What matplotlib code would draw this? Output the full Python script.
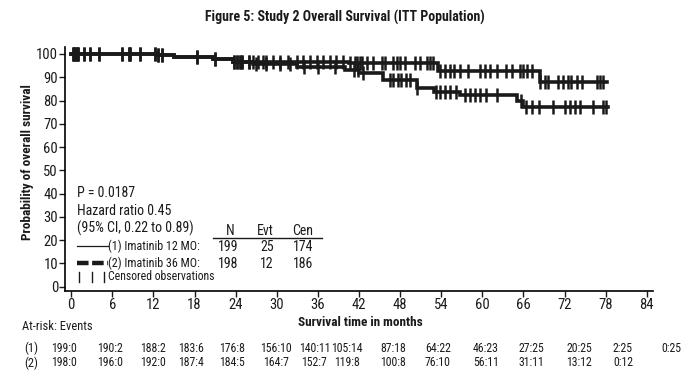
import numpy as np
import matplotlib
matplotlib.use('Agg')
import matplotlib.pyplot as plt

plt.rcParams['font.family'] = ['Roboto Condensed', 'Archivo Narrow', 'DejaVu Sans']

# Kaplan-Meier steps (time in months, survival %)
arm1_times = [0, 12.5, 15, 20.7, 23.6, 26.5, 33, 40, 42, 45.5, 50.4, 53, 56.7, 65, 66]
arm1_surv = [100, 99.5, 98.6, 97.7, 96.7, 95.5, 94.5, 93.2, 91.7, 88.8, 85.5, 83.8, 82.4, 80, 77.3]
arm1_end = 78.3
arm2_times = [0, 12.5, 15, 20.7, 23.6, 40.5, 53.6, 68.4]
arm2_surv = [100, 99.5, 98.6, 97.7, 96.7, 96.0, 92.6, 88.1]
arm2_end = 78.2

shared_cens = [0.2, 0.4, 0.6, 0.8, 1.0, 1.8, 2.8, 4.0, 7.4, 8.4, 8.6, 10.1, 12.3, 12.7, 13.2,
               18.3, 21.0, 23.7, 24.2, 24.6, 24.9, 25.9]
arm1_cens = [27.0, 28.5, 30.5, 32.0, 34.0, 36.0, 38.5, 41.2, 41.9, 42.6, 46.5, 47.0, 47.7,
             48.2, 48.9, 49.4, 50.4, 53.3, 53.8, 54.5, 55.3, 56.2, 57.5, 58.2, 58.9, 59.6,
             60.6, 62.1, 65.7, 66.4, 67.2, 68.2, 70.3, 72.0, 72.8, 73.5, 74.2, 76.2, 77.6, 78.1]
arm2_cens = [26.6, 27.3, 28.0, 28.5, 29.5, 30.5, 31.7, 32.9, 33.9, 34.9, 35.8, 36.8, 37.8,
             38.7, 39.7, 40.7, 41.4, 41.7, 42.1, 42.4, 43.1, 44.1, 45.3, 45.8, 47.0, 47.5,
             48.0, 48.7, 50.2, 50.9, 51.9, 52.4, 52.8, 53.8, 54.5, 55.3, 55.8, 56.7, 57.9,
             59.6, 60.4, 61.1, 62.1, 63.5, 64.3, 65.5, 66.0, 66.5, 67.2, 68.4, 69.1, 69.6,
             71.1, 71.8, 72.5, 73.0, 73.8, 74.5, 76.7, 77.2, 77.6]

xticks = list(range(0, 85, 6))
yticks = list(range(0, 101, 10))

risk_pos = [-1.0, 5.7, 12.0, 17.5, 23.5, 29.9, 35.5, 40.3, 47.0, 53.5, 60.5, 67.1, 74.1, 80.5, 87.5]
risk1 = ['199:0', '190:2', '188:2', '183:6', '176:8', '156:10', '140:11', '105:14', '87:18',
         '64:22', '46:23', '27:25', '20:25', '2:25', '0:25']
risk2 = ['198:0', '196:0', '192:0', '187:4', '184:5', '164:7', '152:7', '119:8', '100:8',
         '76:10', '56:11', '31:11', '13:12', '0:12']

W, H = 692, 378
fig = plt.figure(figsize=(W / 100, H / 100), dpi=100)
ax = fig.add_axes([65 / W, 1 - 290.6 / H, 588 / W, 243.6 / H])
INK = '#1a1a1a'


def km(times, surv, end, cens, lw):
    t = np.array(times + [end])
    s = np.array(surv + [surv[-1]])
    ax.step(t, s, where='post', color=INK, lw=lw, solid_joinstyle='miter')
    c = np.array(cens)
    idx = np.searchsorted(np.array(times), c, side='right') - 1
    ax.plot(c, np.array(surv)[idx], ls='none', marker='|', ms=10, mew=1.8, color=INK)


km(arm1_times, arm1_surv, arm1_end, shared_cens + arm1_cens, 2.6)
km(arm2_times, arm2_surv, arm2_end, shared_cens + arm2_cens, 2.6)

ax.set_xlim(-0.9, 84.9)
ax.set_ylim(-1.7, 103)
ax.set_xticks(xticks)
ax.set_yticks(yticks)
ax.tick_params(direction='out', length=4, width=1, labelsize=10.5, pad=1, colors=INK)
for s in ['top', 'right']:
    ax.spines[s].set_visible(False)
for s in ['left', 'bottom']:
    ax.spines[s].set_linewidth(1.2)

fig.text(345 / W, 1 - 17 / H, 'Figure 5: Study 2 Overall Survival (ITT Population)',
         ha='center', va='center', fontsize=10, fontweight='bold', color=INK)
fig.text(27 / W, 1 - 162 / H, 'Probability of overall survival', rotation=90,
         ha='center', va='center', fontsize=9.5, fontweight='bold', color=INK)
fig.text(360 / W, 1 - 323 / H, 'Survival time in months', ha='center', va='center',
         fontsize=9.5, fontweight='bold', color=INK)


# annotation block in pixel coords
def px(x, y, s, **kw):
    fig.text(x / W, 1 - y / H, s, va='center', fontsize=kw.pop('fs', 10), color=INK, **kw)


px(77, 193, 'P = 0.0187')
px(77, 211, 'Hazard ratio 0.45')
px(77, 228, '(95% CI, 0.22 to 0.89)')
px(108, 246, '(1) Imatinib 12 MO:', fs=8.7)
px(108, 263, '(2) Imatinib 36 MO:', fs=8.7)
px(108, 277, 'Censored observations', fs=8.5)
fig.add_artist(plt.Line2D([77 / W, 108 / W], [1 - 246 / H] * 2, color=INK, lw=0.9))
fig.add_artist(plt.Line2D([77 / W, 108 / W], [1 - 263 / H] * 2, color=INK, lw=3.2,
                          dashes=(2.6, 0.8)))
for xx in [79, 92, 104]:
    fig.add_artist(plt.Line2D([xx / W] * 2, [1 - 272 / H, 1 - 282 / H], color=INK, lw=1))

for x, s in zip([230, 265, 303], ['N', 'Evt', 'Cen']):
    px(x, 231, s, ha='center')
fig.add_artist(plt.Line2D([213 / W, 322 / W], [1 - 238 / H] * 2, color=INK, lw=1))
for x, a, b in zip([228, 267, 303], ['199', '25', '174'], ['198', '12', '186']):
    px(x, 247, a, ha='center')
    px(x, 264, b, ha='center')

# at-risk table
px(22, 327, 'At-risk: Events', fs=9)
px(24, 348, '(1)', fs=9)
px(24, 363, '(2)', fs=9)
x0, k = 71, 6.857
for t, s in zip(risk_pos, risk1):
    px(x0 + t * k, 348, s, ha='center', fs=8.5)
for t, s in zip(risk_pos, risk2):
    px(x0 + t * k, 363, s, ha='center', fs=8.5)

fig.savefig('out.png', dpi=100, facecolor='white')
